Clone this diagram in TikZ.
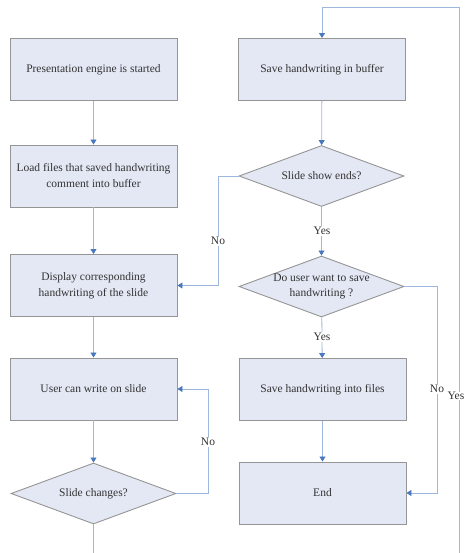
\documentclass[tikz,border=0pt]{standalone}
\usepackage{fontspec}
\setmainfont{Liberation Serif}
\usetikzlibrary{shapes.geometric,arrows.meta}
\definecolor{boxfill}{HTML}{E3E8F4}
\definecolor{boxline}{HTML}{959595}
\definecolor{flowline}{HTML}{9DB8DC}
\definecolor{tipblue}{HTML}{4A78BE}
\definecolor{txt}{HTML}{333333}
\tikzset{
  stepbox/.style={draw=boxline, fill=boxfill, line width=0.9pt, minimum width=167pt,
    minimum height=62pt, inner sep=0pt, align=center, text=txt,
    font=\fontsize{11.5}{16}\selectfont},
  decision/.style={diamond, draw=boxline, fill=boxfill, line width=0.9pt, aspect=2.7,
    minimum width=165pt, minimum height=61pt, inner sep=0pt, align=center, text=txt,
    font=\fontsize{11.5}{15}\selectfont},
  flow/.style={draw=flowline, line width=0.8pt,
    -{Triangle[length=5pt,width=6pt,color=tipblue,fill=tipblue]}},
  plainflow/.style={draw=flowline, line width=0.8pt},
  lbl/.style={fill=white, inner sep=1.5pt, text=txt, font=\fontsize{11.5}{14}\selectfont}
}
\begin{document}
\begin{tikzpicture}[x=1pt,y=-1pt]
\useasboundingbox (0,0) rectangle (465,553);
% left column
\node[stepbox] (start) at (93.5,69.5) {Presentation engine is started};
\node[stepbox] (load) at (93.5,176) {Load files that saved handwriting\\comment into buffer};
\node[stepbox] (show) at (93.5,285.5) {Display corresponding\\handwriting of the slide};
\node[stepbox] (write) at (93.5,389) {User can write on slide};
\node[decision] (chg) at (93.5,493.5) {Slide changes?};
% right column
\node[stepbox] (buf) at (322,69.5) {Save handwriting in buffer};
\node[decision] (ends) at (321.5,176) {Slide show ends?};
\node[decision] (ask) at (321.5,286.5) {Do user want to save\\handwriting ?};
\node[stepbox] (files) at (322.5,389.5) {Save handwriting into files};
\node[stepbox] (fin) at (322.5,493) {End};
% loose ends and corner points
\coordinate (outL) at (93.5,553);
\coordinate (outR) at (459,553);
\coordinate (topR) at (459,7);
% left column connectors
\draw[flow] (start) -- (load);
\draw[flow] (load) -- (show);
\draw[flow] (show) -- (write);
\draw[flow] (write) -- (chg);
\draw[plainflow] (chg) -- (outL);
\draw[flow] (chg.east) -- (208,493.5) |- (write.east);
\node[lbl] (nochg) at (208,442) {No};
% right column connectors
\draw[flow] (buf) -- (ends);
\draw[flow] (ends) -- (ask);
\node[lbl] (yesend) at (322,231) {Yes};
\draw[flow] (ask) -- (files);
\node[lbl] (yessave) at (322,337) {Yes};
\draw[flow] (files) -- (fin);
\draw[flow] (ends.west) -- (218,176) |- (show.east);
\node[lbl] (noend) at (218,241) {No};
\draw[flow] (ask.east) -- (437,286.5) |- (fin.east);
\node[lbl] (nosave) at (437,389) {No};
\draw[flow] (outR) -- (topR) -| (buf.north);
\node[lbl, anchor=east, inner sep=0.5pt] (yesnext) at (465,396) {Yes};
\end{tikzpicture}
\end{document}
